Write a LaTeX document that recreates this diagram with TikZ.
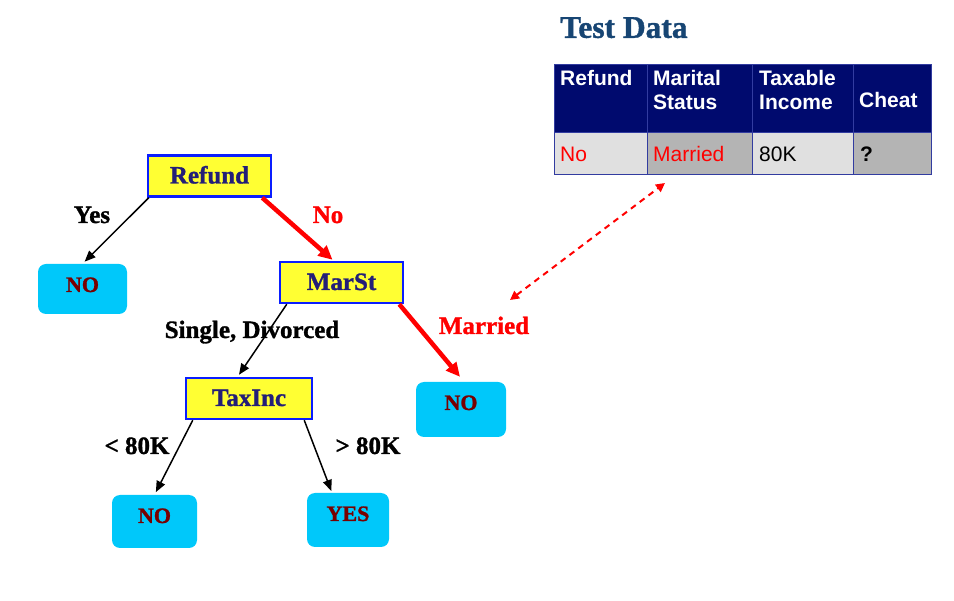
\documentclass[tikz,border=0pt]{standalone}
\usepackage{fontspec}
\setmainfont{Liberation Serif}[BoldFeatures={FakeBold=1.2}]
\newfontfamily\arialfont{Liberation Sans}
\usepackage{tikz}
\usetikzlibrary{positioning,arrows.meta,calc}
\definecolor{boxyellow}{RGB}{255,255,51}
\definecolor{boxblue}{RGB}{10,30,255}
\definecolor{boxtext}{RGB}{35,30,120}
\definecolor{leafcyan}{RGB}{0,200,250}
\definecolor{leaftext}{RGB}{120,0,0}
\definecolor{titleblue}{RGB}{23,69,115}
\definecolor{headnavy}{RGB}{0,10,110}
\definecolor{tabline}{RGB}{50,60,160}
\definecolor{celllight}{RGB}{224,224,224}
\definecolor{celldark}{RGB}{180,180,180}

\begin{document}
\begin{tikzpicture}[x=1pt, y=-1pt,
  attr/.style={draw=boxblue, line width=2.5pt, fill=boxyellow, text=boxtext, font=\fontsize{25}{28}\selectfont\bfseries, minimum width=123pt, inner ysep=0pt, text height=28pt, text depth=13pt},
  leaf/.style={fill=leafcyan, rounded corners=8pt, text=leaftext, font=\fontsize{22}{26}\selectfont\bfseries, inner ysep=0pt, text height=28pt, text depth=22pt},
  edgelbl/.style={anchor=base, font=\fontsize{25}{28}\selectfont\bfseries},
  branch/.style={-{Triangle[length=11pt,width=9pt]}, line width=1.5pt},
  taken/.style={-{Triangle[length=14pt,width=13pt]}, line width=4.5pt, red},
  cell/.style={anchor=base west, inner sep=0pt, align=left, font=\arialfont\fontsize{21}{24}\selectfont}]
\useasboundingbox (0,0) rectangle (954,601);
% Tree nodes
\node[attr] (refund) at (209.5,176) {Refund};
\node[attr] (marst) at (341.5,282.5) {MarSt};
\node[attr, minimum width=126pt] (taxinc) at (249,398.5) {TaxInc};
\node[leaf, minimum width=89pt] (noA) at (82.5,289) {NO};
\node[leaf, minimum width=90pt, text depth=27pt] (noB) at (461,409.5) {NO};
\node[leaf, minimum width=85pt, text depth=25pt] (noC) at (154.5,521.5) {NO};
\node[leaf, minimum width=82pt, text depth=26pt] (yes) at (348,520) {YES};
% Branches
\draw[branch, shorten >=3pt] ([xshift=2pt]refund.south west) -- (noA.north);
\draw[taken] ([xshift=-10pt]refund.south east) -- ([xshift=-9pt, yshift=1pt]marst.north);
\draw[branch] ([xshift=8pt]marst.south west) -- ([xshift=-10pt, yshift=2pt]taxinc.north);
\draw[taken] ([xshift=-5pt]marst.south east) -- ([xshift=-1pt, yshift=5pt]noB.north);
\draw[branch, shorten >=3pt] ([xshift=8pt]taxinc.south west) -- (noC.north);
\draw[branch, shorten >=2pt] ([xshift=-9pt]taxinc.south east) -- ([xshift=-16pt]yes.north);
% Branch labels
\node[edgelbl] (lYes) at (92,223) {Yes};
\node[edgelbl, red] (lNo) at (328,223) {No};
\node[edgelbl] (lSingle) at (252,338) {Single, Divorced};
\node[edgelbl, red] (lMarried) at (484,334) {Married};
\node[edgelbl] (lLess) at (137,454) {< 80K};
\node[edgelbl] (lMore) at (368,454) {> 80K};
% Test data table
\node[anchor=north west, inner sep=0pt, text=titleblue, font=\fontsize{31.5}{34}\selectfont\bfseries] (title) at (560,17) {Test Data};
\fill[headnavy] (554,65) rectangle (931,133);
\foreach \xa/\xb/\shade in {554/647/celllight, 647/752/celldark, 752/853/celllight, 853/931/celldark}
  \fill[\shade] (\xa,133) rectangle (\xb,175);
\foreach \xa in {647,752,853} \draw[tabline, line width=1pt] (\xa,65) -- (\xa,175);
\draw[tabline, line width=1pt] (554,133) -- (931,133);
\draw[tabline, line width=1pt] (554,65) rectangle (931,175);
\node[cell, text=white, font=\arialfont\fontsize{21}{24}\selectfont\bfseries] (hRefund) at (560,86) {Refund};
\node[cell, text=white, font=\arialfont\fontsize{21}{24}\selectfont\bfseries, anchor=north west] (hMarital) at (653,70) {Marital\\Status};
\node[cell, text=white, font=\arialfont\fontsize{21}{24}\selectfont\bfseries, anchor=north west] (hIncome) at (759,70) {Taxable\\Income};
\node[cell, text=white, font=\arialfont\fontsize{21}{24}\selectfont\bfseries] (hCheat) at (859,108) {Cheat};
\node[cell, text=red] (dRefund) at (560,162) {No};
\node[cell, text=red] (dMarital) at (653,162) {Married};
\node[cell] (dIncome) at (759,162) {80K};
\node[cell, font=\arialfont\fontsize{21}{24}\selectfont\bfseries] (dCheat) at (860,162) {?};
% Link between test record and tree
\coordinate (linkA) at (510,300);
\coordinate (linkB) at (665,183);
\draw[{Triangle[length=9pt,width=9pt]}-{Triangle[length=9pt,width=9pt]}, red, line width=2pt, dash pattern=on 6pt off 5pt] (linkA) -- (linkB);
\end{tikzpicture}
\end{document}
